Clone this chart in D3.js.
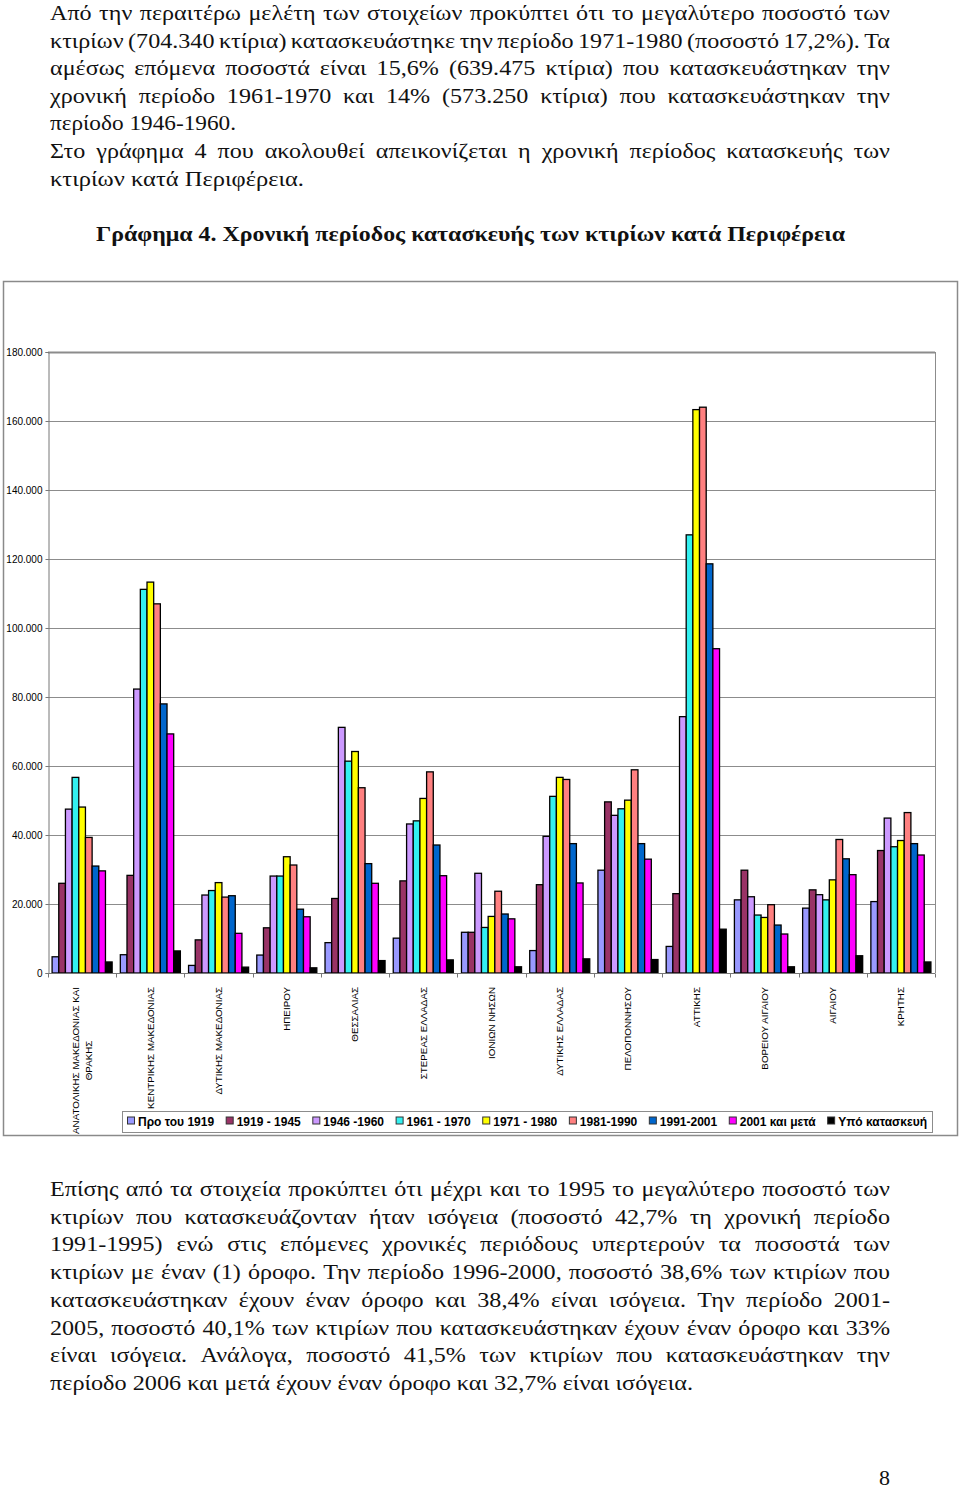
<!DOCTYPE html>
<html><head><meta charset="utf-8">
<script src="https://cdn.jsdelivr.net/npm/d3@7"></script>
<style>
html,body{margin:0;padding:0;background:#fff;}
svg{display:block;}
</style></head>
<body>
<svg id="page" width="960" height="1489"></svg>
<script>
// ---------- DATA ----------
const categories = [
  ["ΑΝΑΤΟΛΙΚΗΣ ΜΑΚΕΔΟΝΙΑΣ ΚΑΙ", "ΘΡΑΚΗΣ"],
  ["ΚΕΝΤΡΙΚΗΣ ΜΑΚΕΔΟΝΙΑΣ"],
  ["ΔΥΤΙΚΗΣ ΜΑΚΕΔΟΝΙΑΣ"],
  ["ΗΠΕΙΡΟΥ"],
  ["ΘΕΣΣΑΛΙΑΣ"],
  ["ΣΤΕΡΕΑΣ ΕΛΛΑΔΑΣ"],
  ["ΙΟΝΙΩΝ ΝΗΣΩΝ"],
  ["ΔΥΤΙΚΗΣ ΕΛΛΑΔΑΣ"],
  ["ΠΕΛΟΠΟΝΝΗΣΟΥ"],
  ["ΑΤΤΙΚΗΣ"],
  ["ΒΟΡΕΙΟΥ ΑΙΓΑΙΟΥ"],
  ["ΑΙΓΑΙΟΥ"],
  ["ΚΡΗΤΗΣ"]
];
const seriesNames = ["Προ του 1919", "1919 - 1945", "1946 -1960", "1961 - 1970", "1971 - 1980", "1981-1990", "1991-2001", "2001 και μετά", "Υπό κατασκευή"];
const pre1919        = [4700, 5300, 2200, 5200, 8800, 10100, 11800, 6500, 29800, 7700, 21200, 18800, 20700];
const p1919_1945     = [26000, 28300, 9600, 13100, 21600, 26700, 11800, 25600, 49600, 23000, 29800, 24100, 35500];
const p1946_1960     = [47500, 82300, 22600, 28100, 71200, 43200, 28900, 39600, 45700, 74300, 22100, 22700, 44900];
const p1961_1970     = [56700, 111200, 23900, 28100, 61400, 44100, 13200, 51200, 47600, 127000, 16800, 21200, 36600];
const p1971_1980     = [48100, 113300, 26200, 33700, 64200, 50600, 16400, 56700, 50100, 163300, 16100, 27000, 38400];
const p1981_1990     = [39300, 107000, 22000, 31300, 53700, 58300, 23700, 56100, 58900, 164000, 19800, 38700, 46500];
const p1991_2001     = [31000, 78000, 22400, 18500, 31700, 37100, 17100, 37500, 37500, 118600, 13900, 33100, 37500];
const p2001_after    = [29600, 69300, 11500, 16300, 26000, 28200, 15700, 26100, 33000, 94000, 11300, 28500, 34200];
const underConstr    = [3200, 6400, 1700, 1500, 3600, 3800, 1800, 4100, 3900, 12700, 1800, 5000, 3200];
const seriesValues = [pre1919, p1919_1945, p1946_1960, p1961_1970, p1971_1980, p1981_1990, p1991_2001, p2001_after, underConstr];
const yTicks = [0, 20000, 40000, 60000, 80000, 100000, 120000, 140000, 160000, 180000];

// text content
const para1 = [
  ["Από την περαιτέρω μελέτη των στοιχείων προκύπτει ότι το μεγαλύτερο ποσοστό των", true],
  ["κτιρίων (704.340 κτίρια) κατασκευάστηκε την περίοδο 1971-1980 (ποσοστό 17,2%). Τα", true],
  ["αμέσως επόμενα ποσοστά είναι 15,6% (639.475 κτίρια) που κατασκευάστηκαν την", true],
  ["χρονική περίοδο 1961-1970 και 14% (573.250 κτίρια) που κατασκευάστηκαν την", true],
  ["περίοδο 1946-1960.", false, 186],
  ["Στο γράφημα 4 που ακολουθεί απεικονίζεται η χρονική περίοδος κατασκευής των", true],
  ["κτιρίων κατά Περιφέρεια.", false, 254]
];
const para2 = [
  ["Επίσης από τα στοιχεία προκύπτει ότι μέχρι και το 1995  το μεγαλύτερο ποσοστό των", true],
  ["κτιρίων που κατασκευάζονταν ήταν ισόγεια (ποσοστό 42,7% τη χρονική περίοδο", true],
  ["1991-1995) ενώ στις επόμενες χρονικές περιόδους υπερτερούν τα ποσοστά των", true],
  ["κτιρίων με έναν (1) όροφο. Την περίοδο 1996-2000, ποσοστό 38,6% των κτιρίων που", true],
  ["κατασκευάστηκαν έχουν έναν όροφο και 38,4% είναι ισόγεια. Την περίοδο 2001-", true],
  ["2005, ποσοστό 40,1% των κτιρίων που κατασκευάστηκαν έχουν έναν όροφο και 33%", true],
  ["είναι ισόγεια. Ανάλογα, ποσοστό 41,5% των κτιρίων που κατασκευάστηκαν την", true],
  ["περίοδο 2006 και μετά έχουν έναν όροφο και 32,7% είναι ισόγεια.", false, 643]
];
const titleText = "Γράφημα 4. Χρονική περίοδος κατασκευής των κτιρίων κατά Περιφέρεια";

// ---------- STYLE ----------
const colors = ["#9999FF", "#993366", "#CC99FF", "#33F0F0", "#FFFF00", "#FF8080", "#0066CC", "#FF00FF", "#000000"];
const serif = "'Liberation Serif','Times New Roman',serif";
const sans = "Arial,'Liberation Sans',Helvetica,sans-serif";

const svg = d3.select("#page");
svg.append("rect").attr("width", 960).attr("height", 1489).attr("fill", "#fff");

// ---------- paragraphs ----------
const TX0 = 50, TX1 = 890, FS = 20.5;
function measure(str, attrs) {
  const t = svg.append("text").text(str);
  Object.entries(attrs).forEach(([k, v]) => t.attr(k, v));
  const w = t.node().getComputedTextLength();
  t.remove();
  return w;
}
const fontAttrs = {"font-family": serif, "font-size": FS};
const fixedLines = para1.concat(para2).filter(l => !l[1]);
const stretch = d3.sum(fixedLines, l => l[2]) / d3.sum(fixedLines, l => measure(l[0], fontAttrs));

function drawPara(lines, y0, lh) {
  lines.forEach((ln, i) => {
    const y = y0 + i * lh;
    if (ln[1]) {
      const words = ln[0].split(/\s+/).filter(w => w.length);
      let ws = words.map(w => measure(w, fontAttrs) * stretch);
      let total = d3.sum(ws);
      let gap = (TX1 - TX0 - total) / (words.length - 1);
      if (gap < 4) { // compress glyphs slightly if line too long
        const k = (TX1 - TX0 - 4 * (words.length - 1)) / total;
        ws = ws.map(w => w * k); total = d3.sum(ws); gap = 4;
      }
      let x = TX0;
      words.forEach((w, j) => {
        svg.append("text").attr("x", x).attr("y", y).attr("font-family", serif).attr("font-size", FS)
          .attr("fill", "#111").attr("textLength", ws[j]).attr("lengthAdjust", "spacingAndGlyphs").text(w);
        x += ws[j] + gap;
      });
    } else {
      svg.append("text").attr("x", TX0).attr("y", y).attr("font-family", serif).attr("font-size", FS)
        .attr("fill", "#111").attr("textLength", ln[2]).attr("lengthAdjust", "spacingAndGlyphs").text(ln[0]);
    }
  });
}
drawPara(para1, 20, 27.6);
drawPara(para2, 1196, 27.7);

svg.append("text").attr("x", 96).attr("y", 241).attr("font-family", serif).attr("font-size", 22)
  .attr("font-weight", "bold").attr("fill", "#111").attr("textLength", 749).attr("lengthAdjust", "spacingAndGlyphs")
  .text(titleText);

svg.append("text").attr("x", 890).attr("y", 1485).attr("text-anchor", "end").attr("font-family", serif)
  .attr("font-size", 22).attr("fill", "#111").text("8");

// ---------- chart ----------
svg.append("rect").attr("x", 3.5).attr("y", 281.5).attr("width", 954).attr("height", 854)
  .attr("fill", "#fff").attr("stroke", "#8a8a8a").attr("stroke-width", 1.5);

const L = 48, R = 935, T = 352, B = 973;
const y = d3.scaleLinear().domain([0, 180000]).range([B, T]);
const x0 = d3.scaleBand().domain(d3.range(categories.length)).range([L, R]).paddingInner(0.12).paddingOuter(0.06);
const x1 = d3.scaleBand().domain(d3.range(seriesNames.length)).range([0, x0.bandwidth()]).padding(0);
const loc = d3.formatLocale({decimal: ",", thousands: ".", grouping: [3], currency: ["", "€"]});
const tickFmt = v => v === 0 ? "0" : loc.format(",")(v / 1000) + ".000";

const g = svg.append("g");
// gridlines
g.append("g").selectAll("line").data(yTicks.filter(v => v > 0)).join("line")
  .attr("x1", L).attr("x2", R).attr("y1", d => Math.round(y(d)) + 0.5).attr("y2", d => Math.round(y(d)) + 0.5)
  .attr("stroke", "#8c8c8c").attr("stroke-width", 1);
// plot border
g.append("line").attr("x1", R + 0.5).attr("x2", R + 0.5).attr("y1", T).attr("y2", B).attr("stroke", "#8c8c8c");
g.append("line").attr("x1", L).attr("x2", R).attr("y1", T + 0.5).attr("y2", T + 0.5).attr("stroke", "#8c8c8c").attr("stroke-width", 2);

// y axis
const yAxis = d3.axisLeft(y).tickValues(yTicks).tickFormat(tickFmt).tickSize(3).tickPadding(3);
const ya = g.append("g").attr("transform", `translate(${L + 0.5},0)`).call(yAxis);
ya.select(".domain").attr("stroke", "#777");
ya.selectAll(".tick line").attr("stroke", "#777");
ya.selectAll("text").attr("font-family", sans).attr("font-size", 10).attr("fill", "#000");

// bars
const groups = g.append("g").selectAll("g").data(categories.map((c, i) => i)).join("g")
  .attr("transform", i => `translate(${x0(i)},0)`);
groups.selectAll("rect").data(i => seriesValues.map((arr, s) => ({s, v: arr[i]}))).join("rect")
  .attr("x", d => x1(d.s)).attr("width", x1.bandwidth())
  .attr("y", d => y(d.v)).attr("height", d => B - y(d.v))
  .attr("fill", d => colors[d.s]).attr("stroke", "#000").attr("stroke-width", 1.3);

// x axis
const xa = g.append("g").attr("transform", `translate(0,${B + 0.5})`);
xa.append("line").attr("x1", L).attr("x2", R).attr("stroke", "#777");
const step = x0.step();
xa.selectAll("line.tk").data(d3.range(categories.length + 1)).join("line").attr("class", "tk")
  .attr("x1", i => Math.round(L + i * step) + 0.5).attr("x2", i => Math.round(L + i * step) + 0.5)
  .attr("y1", 0).attr("y2", 4).attr("stroke", "#777");

// category labels (rotated)
const labTop = 987, labFS = 9.8, labLH = 13;
categories.forEach((lines, i) => {
  const cx = x0(i) + x0.bandwidth() / 2;
  const lens = lines.map(s => measure(s, {"font-family": sans, "font-size": labFS}));
  const maxL = d3.max(lens);
  const cy = labTop + maxL / 2;
  const t = g.append("text").attr("transform", `translate(${cx},${cy}) rotate(-90)`)
    .attr("font-family", sans).attr("font-size", labFS).attr("text-anchor", "middle").attr("fill", "#000");
  lines.forEach((s, j) => {
    const off = (j - (lines.length - 1) / 2) * labLH;
    t.append("tspan").attr("x", 0).attr("y", off).attr("dy", "0.35em").text(s);
  });
});

// legend
const LX0 = 122, LX1 = 932, LY0 = 1111, LY1 = 1132;
g.append("rect").attr("x", LX0 + 0.5).attr("y", LY0 + 0.5).attr("width", LX1 - LX0).attr("height", LY1 - LY0)
  .attr("fill", "#fff").attr("stroke", "#8c8c8c");
const legFS = 12, sq = 7, sqGap = 4;
const legW = seriesNames.map(s => measure(s, {"font-family": sans, "font-size": legFS, "font-weight": "bold"}));
const itemW = legW.map(w => sq + sqGap + w);
const pad = 5;
const gapL = (LX1 - LX0 - 2 * pad - d3.sum(itemW)) / (seriesNames.length - 1);
let lx = LX0 + pad;
const ly = (LY0 + LY1) / 2;
seriesNames.forEach((s, i) => {
  g.append("rect").attr("x", lx + 0.5).attr("y", ly - sq / 2 - 1).attr("width", sq).attr("height", sq)
    .attr("fill", colors[i]).attr("stroke", "#333").attr("stroke-width", 1);
  g.append("text").attr("x", lx + sq + sqGap).attr("y", ly).attr("dy", "0.35em")
    .attr("font-family", sans).attr("font-size", legFS).attr("font-weight", "bold").attr("fill", "#000").text(s);
  lx += itemW[i] + gapL;
});
</script>
</body></html>
